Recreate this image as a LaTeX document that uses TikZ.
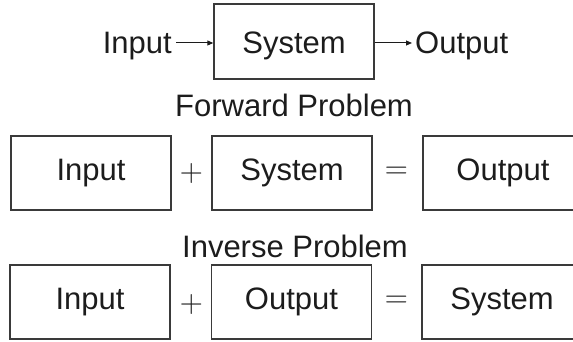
\RequirePackage{fix-cm}
\documentclass[tikz,border=0pt]{standalone}
\usepackage{fontspec}
\setmainfont{Liberation Sans}
\usetikzlibrary{arrows.meta,calc}
\definecolor{boxline}{HTML}{3A3A3A}
\definecolor{ink}{HTML}{1C1C1C}
\begin{document}
\begin{tikzpicture}[x=1pt,y=-1pt,
  every node/.style={text=ink, font=\fontsize{31}{36}\selectfont},
  blk/.style={draw=boxline, line width=1.4pt, minimum width=160pt, inner sep=0pt},
  toprow/.style={blk, minimum height=75pt, text height=25pt, text depth=0pt},
  eqrow/.style={blk, minimum height=74pt, text height=22pt, text depth=8pt},
  op/.style={inner sep=0pt, font=\fontsize{32}{36}\selectfont},
  lbl/.style={inner sep=0pt, anchor=base},
  arr/.style={draw=ink, line width=1pt, -{Triangle[length=6pt,width=5pt]}}]
\useasboundingbox (0,0) rectangle (573,342);
\clip (0,0) rectangle (573,342);

% top row
\node[toprow] (sys) at (294,41.5) {System};
\node[lbl, anchor=base east] (tin) at (172,54) {Input};
\node[lbl, anchor=base west] (tout) at (415,54) {Output};
\draw[arr] ([yshift=-1.5pt]sys.west -| tin.east) ++(4,0) -- ([yshift=-1.5pt]sys.west);
\draw[arr] ([yshift=-1.5pt]sys.east) -- ([yshift=-1.5pt,xshift=-3pt]sys.east -| tout.west);

% forward problem
\node[lbl] (ftitle) at (294,117) {Forward Problem};
\node[eqrow] (fin) at (91,173) {Input};
\node[op] (fplus) at (191.5,174) {$+$};
\node[eqrow] (fsys) at (292,173) {System};
\node[op] (feq) at (396.5,173) {$=$};
\node[eqrow] (fout) at (503,173) {Output};

% inverse problem
\node[lbl] (ititle) at (295,257) {Inverse Problem};
\node[eqrow] (iin) at (90,302) {Input};
\node[op] (iplus) at (191.5,304) {$+$};
\node[eqrow] (iout) at (291.5,302) {Output};
\node[op] (ieq) at (396.5,302) {$=$};
\node[eqrow] (isys) at (502,302) {System};
\end{tikzpicture}
\end{document}
